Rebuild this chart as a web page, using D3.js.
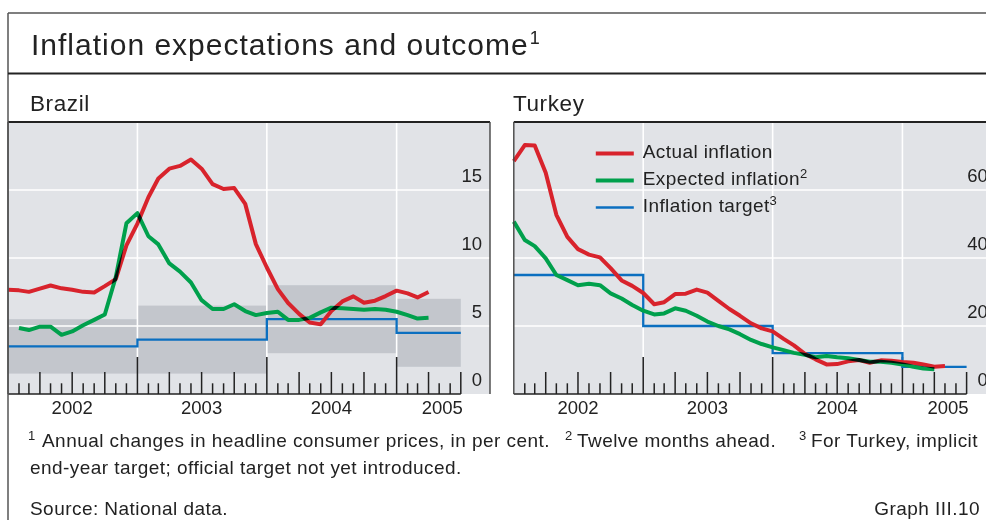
<!DOCTYPE html>
<html>
<head>
<meta charset="utf-8">
<script src="https://cdn.jsdelivr.net/npm/d3@7"></script>
<style>
  body { margin: 0; background: #fff; }
  svg { display: block; font-family: "Liberation Sans", Arial, sans-serif; }
</style>
</head>
<body>
<svg width="986" height="520"></svg>
<script>
// Data (annual % changes, monthly; each value drawn at the end of its month)
let years = [2002, 2003, 2004, 2005];
let brazilTicks = [0, 5, 10, 15];
let turkeyTicks = [0, 20, 40, 60];

let brazilActualFrom = "2001-12";
let brazilActual = [7.67, 7.62, 7.51, 7.75, 7.98, 7.77, 7.66, 7.51, 7.46, 7.93, 8.45, 10.93, 12.53,
                    14.47, 15.85, 16.57, 16.77, 17.24, 16.57, 15.43, 15.07, 15.14, 13.98, 11.02, 9.30,
                    7.71, 6.69, 5.89, 5.26, 5.12, 6.1, 6.81, 7.18, 6.71, 6.86, 7.2, 7.6,
                    7.4, 7.1, 7.5];
let brazilExpectedFrom = "2002-01";
let brazilExpected = [4.85, 4.7, 4.95, 4.95, 4.35, 4.6, 5.05, 5.45, 5.85, 8.6, 12.55, 13.3,
                      11.6, 11.0, 9.6, 9.0, 8.2, 6.9, 6.25, 6.25, 6.6, 6.1, 5.8, 5.95,
                      6.05, 5.45, 5.45, 5.6, 6.0, 6.35, 6.3, 6.25, 6.2, 6.25, 6.2, 6.05,
                      5.8, 5.55, 5.6];
let brazilTarget   = [3.5, 4.0, 5.5, 4.5];
let brazilBandLow  = [1.5, 1.5, 3.0, 2.0];
let brazilBandHigh = [5.5, 6.5, 8.0, 7.0];

let turkeyActualFrom = "2001-12";
let turkeyActual = [68.5, 73.2, 73.1, 65.1, 52.7, 46.2, 42.6, 41.0, 40.2, 37.0, 33.4, 31.8, 29.7,
                    26.4, 27.0, 29.4, 29.5, 30.7, 29.8, 27.4, 25.0, 23.0, 20.8, 19.3, 18.4,
                    16.2, 14.3, 11.8, 10.2, 8.7, 8.8, 9.6, 10.0, 9.2, 9.9, 9.8, 9.4,
                    9.2, 8.7, 8.0, 8.2];
let turkeyExpectedFrom = "2001-12";
let turkeyExpected = [50.7, 45.3, 43.5, 39.9, 35.0, 33.5, 32.0, 32.4, 32.0, 29.6, 28.1, 26.2, 24.5,
                      23.4, 23.7, 25.2, 24.5, 23.0, 21.3, 20.0, 19.0, 17.6, 15.9, 14.7, 13.7,
                      12.9, 12.1, 11.5, 10.8, 11.2, 10.8, 10.5, 10.0, 9.5, 9.5, 9.2, 8.7,
                      8.0, 7.5, 7.3];
let turkeyTarget = [35, 20, 12, 8];

let legendLabels = ["Actual inflation", "Expected inflation", "Inflation target"];
let legendNotes  = ["", "2", "3"];

// Colours
let colourPanel = "#e1e3e7";
let colourBand  = "#c3c6cc";
let colourRed   = "#d8232c";
let colourGreen = "#00a04c";
let colourBlue  = "#0b6fc0";
let colourInk   = "#222";

let svg = d3.select("svg");
let parseMonth = d3.timeParse("%Y-%m");

let panelTop = 122, panelBottom = 394, panelWidth = 482, axisWidth = 452.8;
let axisStart = new Date(2002, 0, 1), axisEnd = new Date(2005, 6, 1);

function drawPanel(p) {
  let x = d3.scaleTime().domain([axisStart, axisEnd]).range([p.left, p.left + axisWidth]);
  let y = d3.scaleLinear().domain([0, p.yMax]).range([panelBottom, panelTop]);
  let g = svg.append("g");
  let yearEnd = d => d3.min([new Date(d + 1, 0, 1), axisEnd]);

  g.append("rect")
    .attr("x", p.left).attr("y", panelTop)
    .attr("width", panelWidth).attr("height", panelBottom - panelTop)
    .attr("fill", colourPanel);

  // tolerance bands
  if (p.bandLow) {
    g.selectAll(".band")
      .data(years)
      .enter().append("rect")
        .attr("x", d => x(new Date(d, 0, 1)))
        .attr("width", d => x(yearEnd(d)) - x(new Date(d, 0, 1)))
        .attr("y", (d, i) => y(p.bandHigh[i]))
        .attr("height", (d, i) => y(p.bandLow[i]) - y(p.bandHigh[i]))
        .attr("fill", colourBand);
  }

  // grid
  g.selectAll(".hgrid")
    .data(p.ticks.filter(v => v > 0))
    .enter().append("line")
      .attr("x1", p.left).attr("x2", p.left + panelWidth)
      .attr("y1", d => y(d)).attr("y2", d => y(d))
      .attr("stroke", "#fff").attr("stroke-width", 1.6);
  g.selectAll(".vgrid")
    .data(years.slice(1))
    .enter().append("line")
      .attr("x1", d => x(new Date(d, 0, 1))).attr("x2", d => x(new Date(d, 0, 1)))
      .attr("y1", panelTop).attr("y2", panelBottom - 37)
      .attr("stroke", "#fff").attr("stroke-width", 1.6);

  // month ticks: long at years, medium at quarters
  let months = d3.timeMonth.range(d3.timeMonth.offset(axisStart, 1), d3.timeMonth.offset(axisEnd, 1));
  g.selectAll(".tick")
    .data(months)
    .enter().append("line")
      .attr("x1", d => x(d)).attr("x2", d => x(d))
      .attr("y1", panelBottom)
      .attr("y2", d => panelBottom - (d.getMonth() == 0 ? 37 : d.getMonth() % 3 == 0 ? 22 : 10.7))
      .attr("stroke", colourInk).attr("stroke-width", 1.5);
  g.append("line")
    .attr("x1", p.left).attr("x2", x(axisEnd))
    .attr("y1", panelBottom).attr("y2", panelBottom)
    .attr("stroke", colourInk).attr("stroke-width", 1.6);

  // target
  let steps = p.target.map((v, i) => ({date: new Date(years[i], 0, 1), value: v}));
  steps.push({date: axisEnd, value: p.target[p.target.length - 1]});
  g.append("path")
    .datum(steps)
    .attr("d", d3.line().x(d => x(d.date)).y(d => y(d.value)).curve(d3.curveStepAfter))
    .attr("fill", "none").attr("stroke", colourBlue).attr("stroke-width", 2.3);

  // actual and expected: overlaps go dark like the print
  let lines = g.append("g").style("isolation", "isolate");
  [[p.actual, p.actualFrom, colourRed], [p.expected, p.expectedFrom, colourGreen]].forEach(s => {
    let from = parseMonth(s[1]);
    lines.append("path")
      .datum(s[0])
      .attr("d", d3.line().x((d, i) => x(d3.timeMonth.offset(from, i + 1))).y(d => y(d)))
      .attr("fill", "none").attr("stroke", s[2]).attr("stroke-width", 4)
      .attr("stroke-linejoin", "round")
      .style("mix-blend-mode", "multiply");
  });

  // panel border
  g.append("line")
    .attr("x1", p.left).attr("x2", p.left + panelWidth)
    .attr("y1", panelTop).attr("y2", panelTop)
    .attr("stroke", colourInk).attr("stroke-width", 2);
  g.selectAll(".side")
    .data([p.left, p.left + panelWidth])
    .enter().append("line")
      .attr("x1", d => d).attr("x2", d => d)
      .attr("y1", panelTop).attr("y2", panelBottom)
      .attr("stroke", "#444").attr("stroke-width", 1.4);

  // labels
  g.selectAll(".ylab")
    .data(p.ticks)
    .enter().append("text")
      .attr("x", p.left + panelWidth - 8)
      .attr("y", d => y(d) - 8)
      .attr("text-anchor", "end")
      .attr("font-size", 18.5)
      .attr("fill", colourInk)
      .text(d => d);
  g.selectAll(".year")
    .data(years)
    .enter().append("text")
      .attr("x", d => d == 2005 ? x(axisEnd) + 2 : x(new Date(d, 6, 1)))
      .attr("y", 414)
      .attr("text-anchor", d => d == 2005 ? "end" : "middle")
      .attr("font-size", 18.5)
      .attr("fill", colourInk)
      .text(d => d);
  g.append("text")
    .attr("x", p.labelX).attr("y", 111)
    .attr("font-size", 22.5).attr("letter-spacing", 0.6)
    .attr("fill", colourInk)
    .text(p.name);

  if (p.legend) {
    let lg = g.selectAll(".legend")
      .data(legendLabels)
      .enter().append("g")
        .attr("transform", (d, i) => "translate(" + (p.left + 82) + "," + (153.5 + i * 27) + ")");
    lg.append("line")
      .attr("x1", 0).attr("x2", 38)
      .attr("stroke", (d, i) => [colourRed, colourGreen, colourBlue][i])
      .attr("stroke-width", (d, i) => i < 2 ? 4 : 2.3);
    let lt = lg.append("text")
      .attr("x", 47).attr("y", 4)
      .attr("font-size", 19).attr("letter-spacing", 0.4)
      .attr("fill", colourInk)
      .text(d => d);
    lt.append("tspan")
      .attr("dy", -7).attr("font-size", 13)
      .text((d, i) => legendNotes[i]);
  }
}

drawPanel({name: "Brazil", left: 8, labelX: 30, yMax: 20, ticks: brazilTicks,
           actual: brazilActual, actualFrom: brazilActualFrom,
           expected: brazilExpected, expectedFrom: brazilExpectedFrom,
           target: brazilTarget, bandLow: brazilBandLow, bandHigh: brazilBandHigh});
drawPanel({name: "Turkey", left: 513.8, labelX: 513, yMax: 80, ticks: turkeyTicks,
           actual: turkeyActual, actualFrom: turkeyActualFrom,
           expected: turkeyExpected, expectedFrom: turkeyExpectedFrom,
           target: turkeyTarget, legend: true});

// Frame
svg.append("line").attr("x1", 8).attr("x2", 986).attr("y1", 13).attr("y2", 13)
  .attr("stroke", "#555").attr("stroke-width", 1.5);
svg.append("line").attr("x1", 8).attr("x2", 8).attr("y1", 13).attr("y2", 520)
  .attr("stroke", "#555").attr("stroke-width", 1.5);
svg.append("line").attr("x1", 8).attr("x2", 986).attr("y1", 73.5).attr("y2", 73.5)
  .attr("stroke", colourInk).attr("stroke-width", 2);

// Title
let title = svg.append("text")
  .attr("x", 31).attr("y", 55)
  .attr("font-size", 30).attr("letter-spacing", 1.0)
  .attr("fill", colourInk)
  .text("Inflation expectations and outcome");
svg.append("text")
  .attr("x", 31 + title.node().getComputedTextLength() + 1).attr("y", 44)
  .attr("font-size", 18).attr("fill", colourInk)
  .text("1");

// Footnotes
let notes = [
  {x: 28,  y: 440, size: 13, text: "1"},
  {x: 42,  y: 447, size: 19, text: "Annual changes in headline consumer prices, in per cent."},
  {x: 565, y: 440, size: 13, text: "2"},
  {x: 577, y: 447, size: 19, text: "Twelve months ahead."},
  {x: 799, y: 440, size: 13, text: "3"},
  {x: 811, y: 447, size: 19, text: "For Turkey, implicit"},
  {x: 30,  y: 474, size: 19, text: "end-year target; official target not yet introduced."},
  {x: 30,  y: 515, size: 19, text: "Source: National data."}
];
svg.selectAll(".note")
  .data(notes)
  .enter().append("text")
    .attr("x", d => d.x).attr("y", d => d.y)
    .attr("font-size", d => d.size).attr("letter-spacing", d => d.size > 15 ? 0.45 : 0)
    .attr("fill", colourInk)
    .text(d => d.text);
svg.append("text")
  .attr("x", 980).attr("y", 515)
  .attr("text-anchor", "end")
  .attr("font-size", 19).attr("letter-spacing", 0.45)
  .attr("fill", colourInk)
  .text("Graph III.10");
</script>
</body>
</html>
